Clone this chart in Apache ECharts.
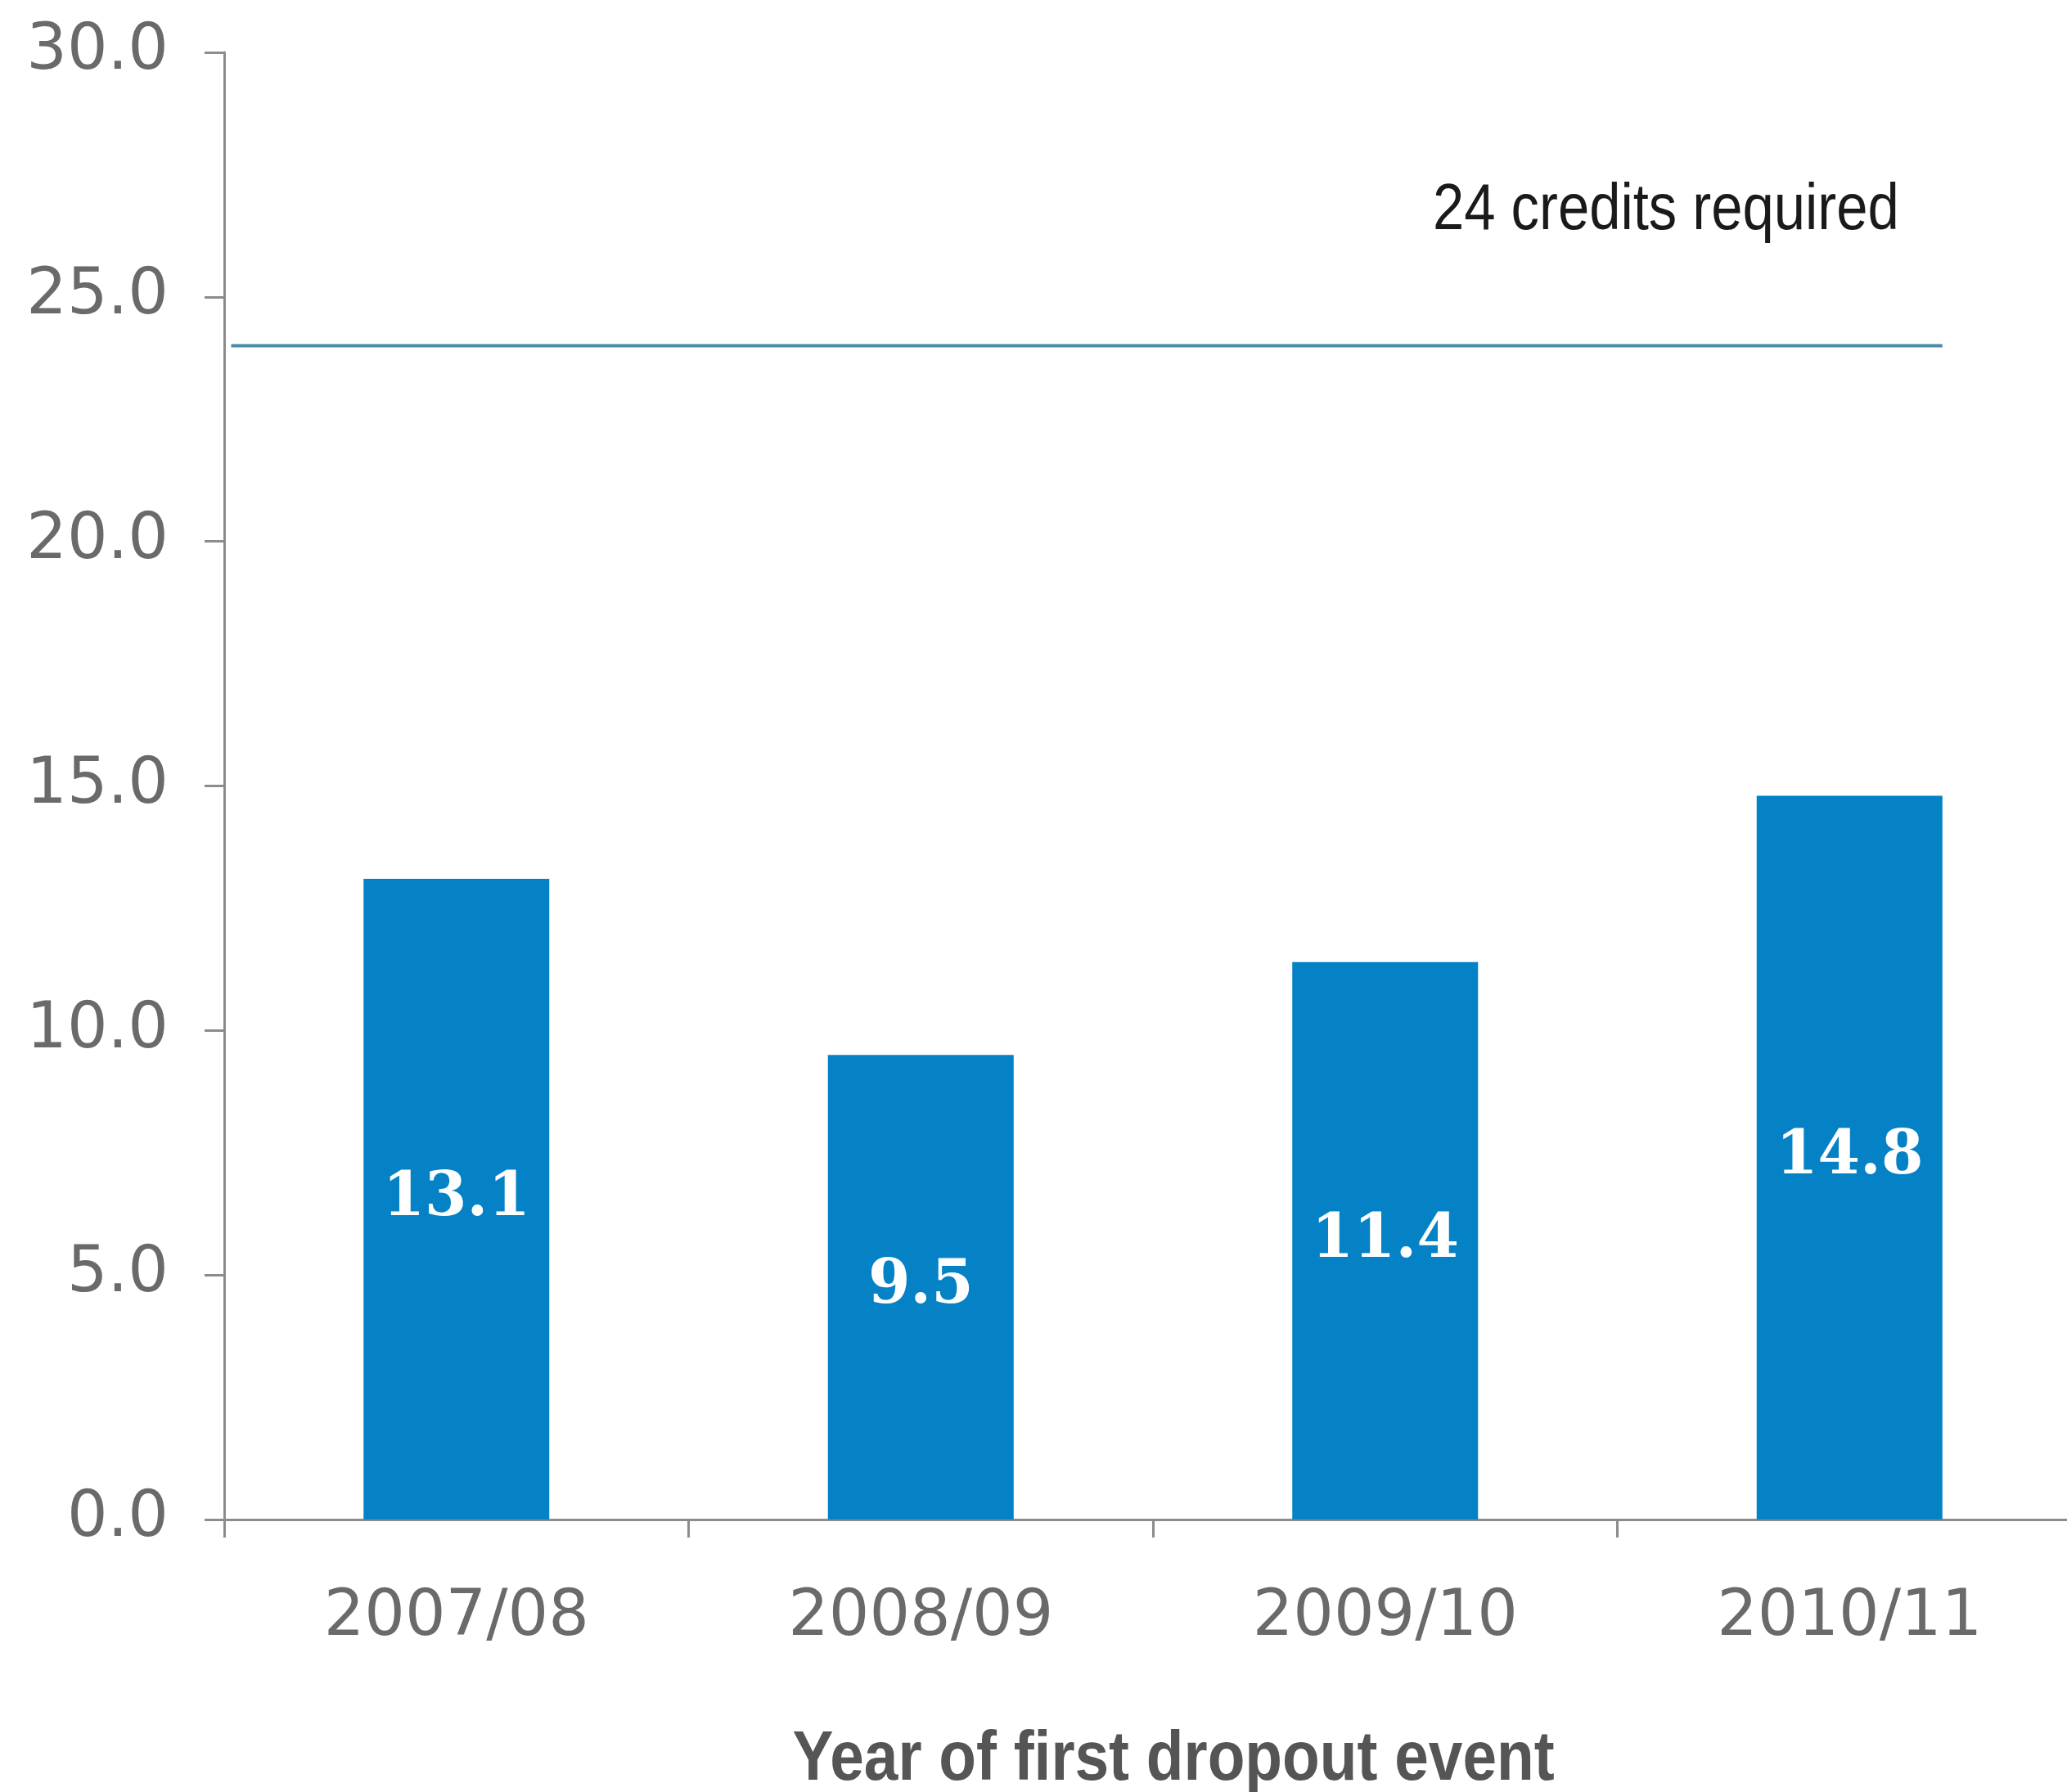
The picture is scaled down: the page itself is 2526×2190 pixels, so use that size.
<!DOCTYPE html>
<html>
<head>
<meta charset="utf-8">
<script src="https://cdn.jsdelivr.net/npm/echarts@6/dist/echarts.min.js"></script>
<style>
html,body{margin:0;padding:0;background:#fff;overflow:hidden;}
#chart{width:2544px;height:2190px;}
</style>
</head>
<body>
<div id="chart"></div>
<script>
const categories = ['2007/08', '2008/09', '2009/10', '2010/11'];
const creditValues = [13.1, 9.5, 11.4, 14.8];
const thresholdValue = 24;
const thresholdLabel = '24 credits required';
const xAxisTitle = 'Year of first dropout event';
const yTicks = [0, 5, 10, 15, 20, 25, 30];

const barFraction = 0.40;
const chart = echarts.init(document.getElementById('chart'), null, {renderer: 'canvas'});

const option = {
  backgroundColor: '#ffffff',
  animation: false,
  grid: {left: 274, top: 64, bottom: 333, right: 0, containLabel: false},
  xAxis: [
    {
      type: 'category',
      data: categories,
      boundaryGap: true,
      axisLine: {show: true, lineStyle: {color: '#8c8c8c', width: 3}},
      axisTick: {show: true, length: 22, lineStyle: {color: '#8c8c8c', width: 3}},
      axisLabel: {
        margin: 82,
        color: '#6a6a6a',
        fontFamily: 'DejaVu Sans',
        fontSize: 78
      },
      splitLine: {show: false}
    },
    {
      type: 'value',
      min: 0,
      max: categories.length,
      show: false
    }
  ],
  yAxis: {
    type: 'value',
    min: yTicks[0],
    max: yTicks[yTicks.length - 1],
    interval: 5,
    axisLine: {show: true, lineStyle: {color: '#8c8c8c', width: 3}},
    axisTick: {show: true, inside: false, length: 24, lineStyle: {color: '#8c8c8c', width: 3}},
    axisLabel: {
      margin: 68,
      color: '#6a6a6a',
      fontFamily: 'DejaVu Sans',
      fontSize: 78,
      formatter: v => v.toFixed(1)
    },
    splitLine: {show: false}
  },
  series: [
    {
      type: 'bar',
      data: creditValues,
      barWidth: (barFraction * 100) + '%',
      itemStyle: {color: '#0582c6'},
      label: {
        show: true,
        position: 'inside',
        color: '#ffffff',
        fontFamily: 'DejaVu Serif',
        fontWeight: 'bold',
        fontSize: 74,
        formatter: p => p.value.toFixed(1)
      }
    },
    {
      type: 'line',
      xAxisIndex: 1,
      yAxisIndex: 0,
      symbol: 'none',
      lineStyle: {color: '#4a8ba6', width: 4},
      data: [[0.015, thresholdValue], [categories.length - 0.5 + barFraction / 2, thresholdValue]],
      silent: true
    }
  ]
};
chart.setOption(option);

const endPx = chart.convertToPixel({xAxisIndex: 1, yAxisIndex: 0}, [categories.length - 0.5 + barFraction / 2, thresholdValue]);
chart.setOption({
  graphic: [
    {
      type: 'text',
      x: endPx[0] - 53,
      y: endPx[1] - 165,
      scaleX: 0.86,
      style: {
        text: thresholdLabel,
        fill: '#1a1a1a',
        font: '80px "Liberation Sans", sans-serif',
        textAlign: 'right',
        textVerticalAlign: 'middle'
      }
    },
    {
      type: 'text',
      x: 1434,
      y: 2151,
      scaleX: 0.87,
      style: {
        text: xAxisTitle,
        fill: '#555555',
        font: 'bold 86px "Liberation Sans", sans-serif',
        textAlign: 'center',
        textVerticalAlign: 'middle'
      }
    }
  ]
});
</script>
</body>
</html>
